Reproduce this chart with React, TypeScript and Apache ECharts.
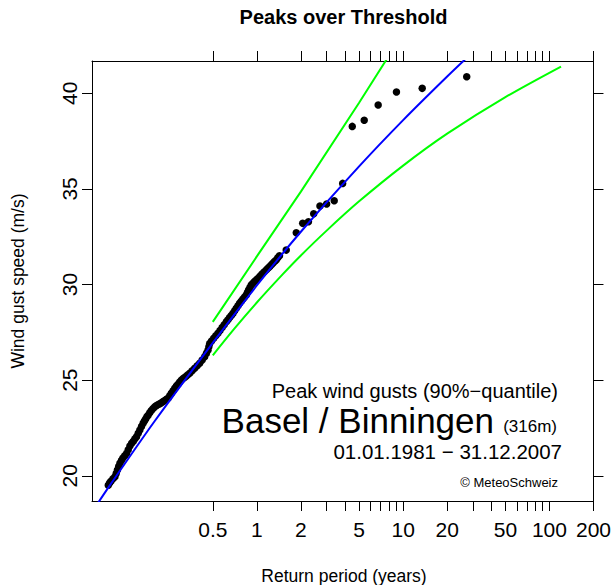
import React, { useEffect, useRef } from "react";
import * as echarts from "echarts";

// ---- axis ticks ----
const PERIOD_TICKS = [0.5, 1, 2, 3, 4, 5, 6, 7, 8, 9, 10, 20, 30, 40, 50, 60, 70, 80, 90, 100, 200];
const PERIOD_LABELS = [0.5, 1, 2, 5, 10, 20, 50, 100, 200];
const SPEED_TICKS = [20, 25, 30, 35, 40];

// ---- observed peaks (return period in years, wind gust speed m/s) ----
const obsPeriod = [
  0.0965, 0.0985, 0.1006, 0.1039, 0.1072, 0.1093, 0.1114, 0.1136, 0.1159, 0.1187,
  0.1215, 0.125, 0.1287, 0.1321, 0.1356, 0.1394, 0.1432, 0.1468, 0.1506, 0.1546,
  0.1586, 0.1628, 0.167, 0.1704, 0.1738, 0.1772, 0.1807, 0.1853, 0.19, 0.1954,
  0.2008, 0.2061, 0.2114, 0.2171, 0.2229, 0.2288, 0.2348, 0.241, 0.2473, 0.2538,
  0.2604, 0.2676, 0.2748, 0.282, 0.2893, 0.297, 0.3053, 0.315, 0.3256, 0.336,
  0.3477, 0.361, 0.376, 0.391, 0.4068, 0.423, 0.44, 0.452, 0.4634, 0.47,
  0.4761, 0.49, 0.5071, 0.524, 0.5422, 0.56, 0.579, 0.598, 0.6186, 0.635,
  0.6515, 0.669, 0.6862, 0.705, 0.7238, 0.743, 0.7624, 0.782, 0.8028, 0.825,
  0.8466, 0.862, 0.8777, 0.897, 0.9157, 0.94, 0.9645, 0.99, 1.016, 1.05,
  1.085, 1.12, 1.159, 1.19, 1.221, 1.253, 1.286, 1.32, 1.356, 1.39,
  1.428, 1.588, 1.86, 2.058, 2.252, 2.447, 2.7, 3.0, 3.38, 3.86,
  4.49, 5.42, 6.75, 9.0, 13.5, 27.2,
];
const obsSpeed = [
  19.51, 19.62, 19.71, 19.84, 19.95, 20.12, 20.3, 20.48, 20.65, 20.8,
  20.93, 21.05, 21.17, 21.36, 21.55, 21.7, 21.81, 21.93, 22.04, 22.22,
  22.39, 22.57, 22.74, 22.86, 22.97, 23.08, 23.17, 23.3, 23.41, 23.52,
  23.61, 23.67, 23.72, 23.77, 23.82, 23.88, 23.93, 24.0, 24.05, 24.18,
  24.31, 24.45, 24.57, 24.69, 24.79, 24.9, 25.01, 25.1, 25.18, 25.27,
  25.36, 25.49, 25.62, 25.75, 25.88, 26.05, 26.22, 26.4, 26.57, 26.75,
  26.92, 27.05, 27.19, 27.32, 27.45, 27.6, 27.75, 27.9, 28.05, 28.16,
  28.27, 28.38, 28.49, 28.63, 28.76, 28.89, 29.02, 29.13, 29.24, 29.35,
  29.45, 29.58, 29.71, 29.84, 29.97, 30.07, 30.16, 30.24, 30.32, 30.44,
  30.55, 30.66, 30.76, 30.85, 30.93, 31.02, 31.11, 31.2, 31.28, 31.4,
  31.5, 31.8, 32.71, 33.2, 33.28, 33.7, 34.11, 34.21, 34.38, 35.29,
  38.27, 38.59, 39.39, 40.07, 40.26, 40.87,
];

// ---- fitted return level curve (blue) ----
const fitPeriod = [0.08, 0.1, 0.2, 0.5, 1, 2, 5, 10, 20, 30];
const fitSpeed = [18.45, 19.55, 22.85, 26.95, 29.95, 32.76, 36.18, 38.6, 40.88, 42.16];

// ---- confidence bounds (green) ----
const upperPeriod = [0.5, 1, 2, 5, 8];
const upperSpeed = [28.05, 31.47, 34.86, 39.51, 41.97];
const lowerPeriod = [0.5, 0.7, 1, 1.5, 2, 3, 5, 10, 20, 50, 120];
const lowerSpeed = [26.3, 27.68, 29.06, 30.53, 31.52, 32.82, 34.35, 36.22, 37.89, 39.8, 41.4];

// ---- axis range ----
const X_MIN = 0.0747;
const X_MAX = 200;
const Y_MIN = 18.68;
const Y_MAX = 41.69;

const FONT = '"Liberation Sans", Arial, Helvetica, sans-serif';

const zip = (a: number[], b: number[]) => a.map((v, i) => [v, b[i]]);

export default function App() {
  const ref = useRef<HTMLDivElement>(null);
  useEffect(() => {
    if (!ref.current) return;
    const chart = echarts.init(ref.current, null, { renderer: "svg" });
    const fmt = (v: number) => String(Math.round(v * 10) / 10);
    const xAxisBase = (pos: "bottom" | "top", showLabels: boolean) => ({
      type: "log",
      logBase: 10,
      position: pos,
      min: X_MIN,
      max: X_MAX,
      axisLine: { show: true, onZero: false, lineStyle: { color: "#000", width: 1 } },
      axisTick: {
        show: true,
        inside: false,
        length: 10,
        lineStyle: { color: "#000", width: 1 },
        customValues: PERIOD_TICKS,
      },
      axisLabel: {
        show: showLabels,
        customValues: PERIOD_LABELS,
        formatter: fmt,
        fontSize: 21,
        fontFamily: FONT,
        color: "#000",
        margin: 18,
        hideOverlap: false,
      },
      splitLine: { show: false },
      minorTick: { show: false },
      minorSplitLine: { show: false },
    });
    const yAxisBase = (pos: "left" | "right", showLabels: boolean) => ({
      type: "value",
      position: pos,
      min: Y_MIN,
      max: Y_MAX,
      axisLine: { show: true, onZero: false, lineStyle: { color: "#000", width: 1 } },
      axisTick: {
        show: true,
        inside: false,
        length: 10,
        lineStyle: { color: "#000", width: 1 },
        customValues: SPEED_TICKS,
      },
      axisLabel: {
        show: showLabels,
        customValues: SPEED_TICKS,
        rotate: 90,
        fontSize: 21,
        fontFamily: FONT,
        color: "#000",
        margin: 12,
      },
      splitLine: { show: false },
    });

    chart.setOption({
      animation: false,
      backgroundColor: "#fff",
      grid: { left: 92, top: 61, width: 503, height: 440, containLabel: false },
      xAxis: [xAxisBase("bottom", true), xAxisBase("top", false)],
      yAxis: [yAxisBase("left", true), yAxisBase("right", false)],
      series: [
        {
          type: "scatter",
          name: "observed",
          data: zip(obsPeriod, obsSpeed),
          symbol: "circle",
          symbolSize: 7.5,
          itemStyle: { color: "#000", opacity: 1 },
          z: 2,
        },
        {
          type: "line",
          name: "upper",
          data: zip(upperPeriod, upperSpeed),
          showSymbol: false,
          clip: true,
          lineStyle: { color: "#00ff00", width: 2 },
          z: 3,
        },
        {
          type: "line",
          name: "lower",
          data: zip(lowerPeriod, lowerSpeed),
          showSymbol: false,
          clip: true,
          smooth: 0.3,
          lineStyle: { color: "#00ff00", width: 2 },
          z: 3,
        },
        {
          type: "line",
          name: "fit",
          data: zip(fitPeriod, fitSpeed),
          showSymbol: false,
          clip: true,
          smooth: 0.3,
          lineStyle: { color: "#0000ff", width: 2 },
          z: 4,
        },
      ],
      graphic: [
        {
          type: "text",
          x: 343.5,
          y: 17,
          style: {
            text: "Peaks over Threshold",
            fontSize: 20,
            fontWeight: "bold",
            fontFamily: FONT,
            fill: "#000",
            align: "center",
            verticalAlign: "middle",
          },
        },
        {
          type: "text",
          x: 344,
          y: 576,
          style: {
            text: "Return period (years)",
            fontSize: 17.5,
            fontFamily: FONT,
            fill: "#000",
            align: "center",
            verticalAlign: "middle",
          },
        },
        {
          type: "text",
          x: 18,
          y: 281,
          rotation: Math.PI / 2,
          style: {
            text: "Wind gust speed (m/s)",
            fontSize: 17.5,
            fontFamily: FONT,
            fill: "#000",
            align: "center",
            verticalAlign: "middle",
          },
        },
        {
          type: "text",
          x: 558,
          y: 391,
          style: {
            text: "Peak wind gusts (90%\u2212quantile)",
            fontSize: 20,
            fontFamily: FONT,
            fill: "#000",
            align: "right",
            verticalAlign: "middle",
            lineHeight: 18,
          },
        },
        {
          type: "text",
          x: 494,
          y: 420,
          style: {
            text: "Basel / Binningen",
            fontSize: 35,
            fontFamily: FONT,
            fill: "#000",
            align: "right",
            verticalAlign: "middle",
            lineHeight: 28,
          },
        },
        {
          type: "text",
          x: 557,
          y: 426,
          style: {
            text: "(316m)",
            fontSize: 17,
            fontFamily: FONT,
            fill: "#000",
            align: "right",
            verticalAlign: "middle",
          },
        },
        {
          type: "text",
          x: 562,
          y: 451.5,
          style: {
            text: "01.01.1981 \u2212 31.12.2007",
            fontSize: 20.5,
            fontFamily: FONT,
            fill: "#000",
            align: "right",
            verticalAlign: "middle",
            lineHeight: 18,
          },
        },
        {
          type: "text",
          x: 558,
          y: 482,
          style: {
            text: "\u00a9 MeteoSchweiz",
            fontSize: 13,
            fontFamily: FONT,
            fill: "#000",
            align: "right",
            verticalAlign: "middle",
          },
        },
      ],
    });
    return () => chart.dispose();
  }, []);
  return (
    <div
      ref={ref}
      style={{ position: "fixed", left: 0, top: 0, width: 614, height: 585, background: "#fff" }}
    />
  );
}
